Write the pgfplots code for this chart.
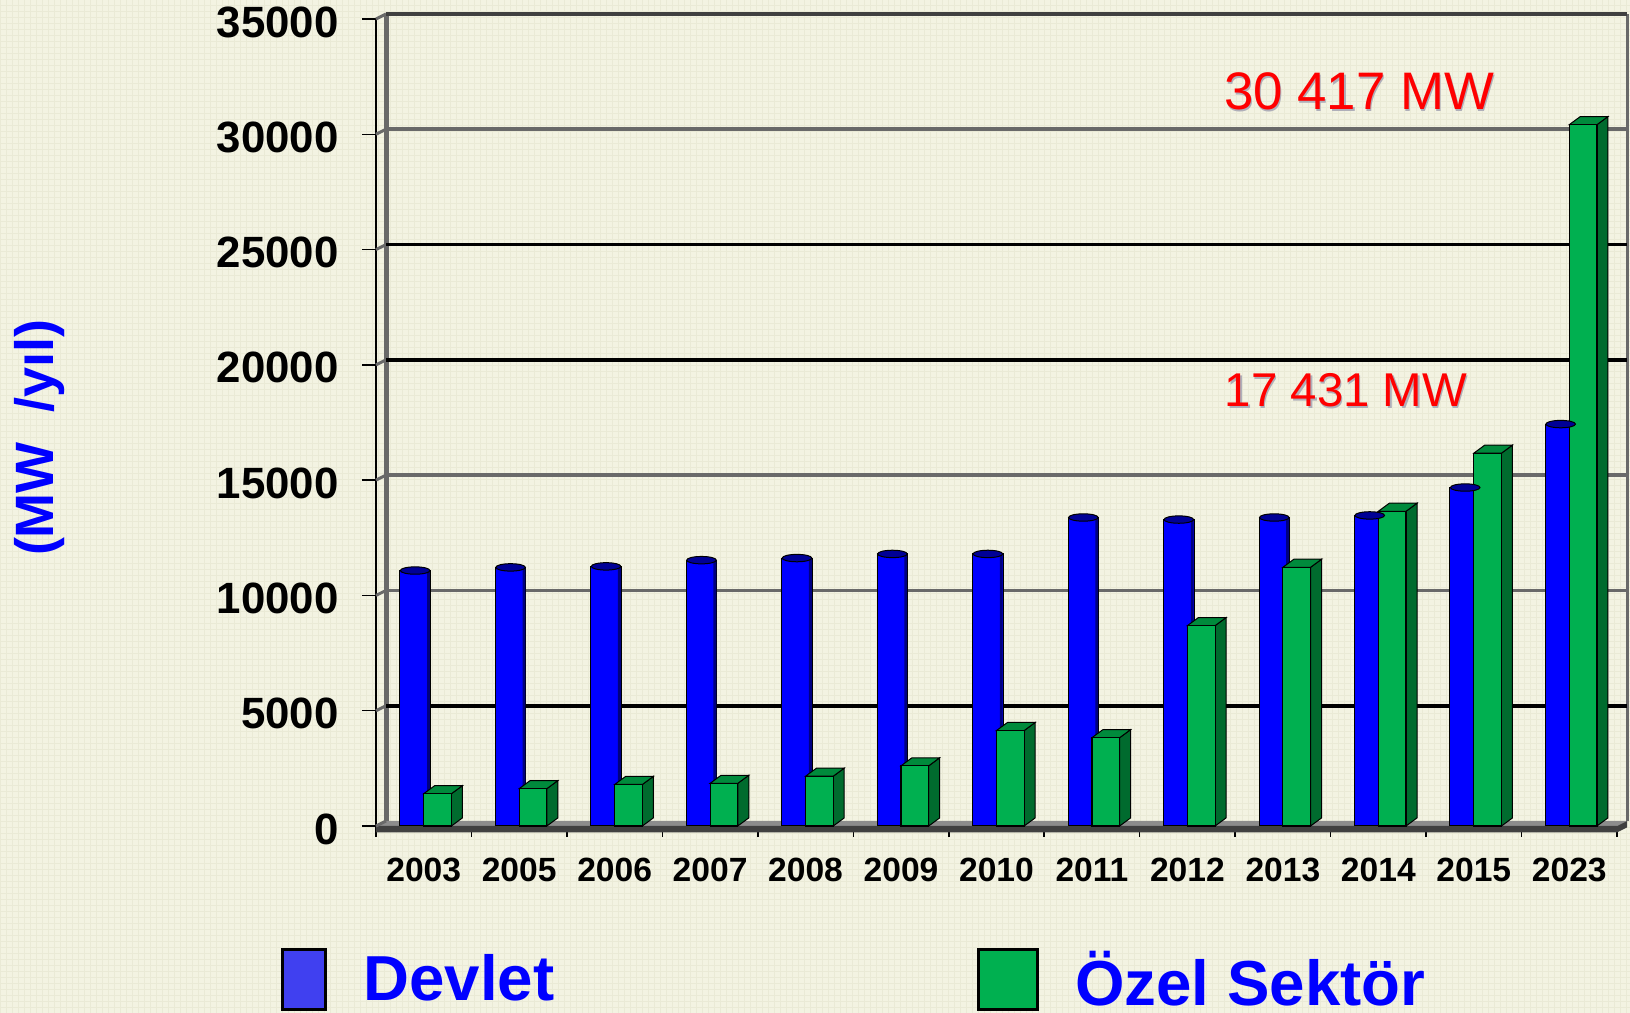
\documentclass[border=0pt]{standalone}
\usepackage{pgfplots}
\pgfplotsset{compat=1.18}
\usepackage{pgfplotstable}
\usepackage{fontspec}
\setmainfont{Liberation Sans}
\usetikzlibrary{patterns}
\definecolor{paper}{RGB}{243,243,226}
\definecolor{weave}{RGB}{234,234,214}
\definecolor{blubar}{RGB}{0,0,255}
\definecolor{bluedark}{RGB}{0,0,128}
\definecolor{bluecap}{RGB}{0,0,150}
\definecolor{grnfront}{RGB}{0,176,80}
\definecolor{grnside}{RGB}{0,107,46}
\definecolor{grntop}{RGB}{0,138,60}
\definecolor{wallgray}{RGB}{105,105,105}
\definecolor{floorgray}{RGB}{140,140,140}
\definecolor{floordark}{RGB}{64,64,64}
\definecolor{shadow}{RGB}{175,175,185}

% year, public (Devlet), private (Ozel Sektor) capacity in MW
\pgfplotstableread{
i year devlet ozel
0 2003 11080 1400
1 2005 11216 1620
2 2006 11260 1800
3 2007 11530 1850
4 2008 11620 2160
5 2009 11800 2610
6 2010 11800 4140
7 2011 13380 3830
8 2012 13290 8690
9 2013 13380 11220
10 2014 13470 13650
11 2015 14680 16170
12 2023 17431 30417
}\capdata

\newcommand\fcalc[2]{\begingroup\pgfkeys{/pgf/fpu=true,/pgf/fpu/output format=fixed}\pgfmathparse{#2}\xdef#1{\pgfmathresult}\endgroup}
\newcommand\wall[2]{\addplot[forget plot,#2,line width=1.8pt] coordinates {(0.105,#1) (13.105,#1)};}
\newcommand\stub[1]{\addplot[forget plot,wallgray,line width=1.5pt] coordinates {(0,#1) (0.105,#1+217)};}

\begin{document}
\begin{tikzpicture}
\path[use as bounding box] (0,0) rectangle (815pt,506.5pt);
\fill[paper] (0,0) rectangle (815pt,506.5pt);
\fill[pattern=grid,pattern color=weave] (0,0) rectangle (815pt,506.5pt);
\begin{axis}[
    at={(188pt,93.5pt)},
    anchor=south west,
    scale only axis,
    width=620.5pt,
    height=403.5pt,
    xmin=0, xmax=13,
    ymin=0, ymax=35000,
    clip=false,
    scaled y ticks=false,
    axis x line*=bottom,
    axis y line*=left,
    axis line style={-,black,line width=1pt},
    tick align=outside,
    xtick={0.5,1.5,2.5,3.5,4.5,5.5,6.5,7.5,8.5,9.5,10.5,11.5,12.5},
    xticklabels={2003,2005,2006,2007,2008,2009,2010,2011,2012,2013,2014,2015,2023},
    minor xtick={0,1,2,3,4,5,6,7,8,9,10,11,12,13},
    major x tick style={draw=none},
    minor x tick style={black,line width=.75pt},
    minor tick length=5.5pt,
    ytick={0,5000,10000,15000,20000,25000,30000,35000},
    major y tick style={black,line width=.75pt},
    major tick length=7pt,
    /pgf/number format/assume math mode=true,
    /pgf/number format/1000 sep={},
    xticklabel style={font=\fontsize{16.8}{20}\selectfont\bfseries,yshift=-5.5pt},
    yticklabel style={font=\fontsize{21.9}{26}\selectfont\bfseries,yshift=-1.5pt,xshift=-8.2pt},
    ylabel={(MW\ \ /yıl)},
    ylabel style={at={(rel axis cs:-0.2708,0.4814)},anchor=center,rotate=0,
        font=\fontsize{27}{30}\selectfont\bfseries,text=blue},
    legend columns=2,
    legend style={draw=none,fill=none,inner sep=0pt,at={(-0.0765,-0.15)},anchor=north west,
        font=\fontsize{31.8}{36}\selectfont\bfseries,text=blue,
        /tikz/every even column/.append style={column sep=209.5pt},
        /tikz/every odd column/.append style={column sep=16pt}},
]
% back wall and floor
\addplot[forget plot,fill=floorgray,draw=none] coordinates {(0,0) (0.105,217) (13.105,217) (13,0)} --cycle;
\addplot[forget plot,fill=floordark,draw=none] coordinates {(0,0) (13,0) (13.105,217) (13.105,-63) (13,-280) (0,-280)} --cycle;
\addplot[forget plot,wallgray,line width=2.5pt] coordinates {(0.105,217) (0.105,35217)};
\addplot[forget plot,wallgray,line width=1.5pt] coordinates {(13.105,217) (13.105,35217)};
\stub{0}\stub{5000}\stub{10000}\stub{15000}\stub{20000}\stub{25000}\stub{30000}\stub{35000}
\wall{5217}{black}
\wall{10217}{wallgray}
\wall{15217}{wallgray}
\wall{20217}{black}
\wall{25217}{black}
\wall{30217}{wallgray}
\wall{35217}{floordark}
% Devlet: cylinders
\addplot[forget plot,ybar,bar width=0.32,bar shift=0,fill=blubar,draw=black,line width=.5pt]
    table[x expr=\thisrow{i}+0.41,y=devlet] {\capdata};
\addplot[forget plot,ybar,bar width=0.03,bar shift=0,fill=bluedark,draw=none]
    table[x expr=\thisrow{i}+0.55,y=devlet] {\capdata};
\addplot[forget plot,only marks,mark=*,mark size=7.4pt,
    mark options={fill=bluecap,draw=black,line width=.5pt,yscale=.25}]
    table[x expr=\thisrow{i}+0.41,y=devlet] {\capdata};
% Ozel Sektor: boxes
\pgfplotsinvokeforeach{0,1,2,3,4,5,6,7,8,9,10,11,12}{
    \pgfplotstablegetelem{#1}{ozel}\of\capdata
    \let\val\pgfplotsretval
    \fcalc\xl{#1+0.5}
    \fcalc\xr{#1+0.79}
    \fcalc\xlb{#1+0.615}
    \fcalc\xrb{#1+0.905}
    \fcalc\vb{\val+350}
    \addplot[forget plot,fill=grnside,draw=black,line width=.5pt] coordinates
        {(\xr,0) (\xrb,350) (\xrb,\vb) (\xr,\val)} --cycle;
    \addplot[forget plot,fill=grntop,draw=black,line width=.5pt] coordinates
        {(\xl,\val) (\xlb,\vb) (\xrb,\vb) (\xr,\val)} --cycle;
}
\addplot[forget plot,ybar,bar width=0.29,bar shift=0,fill=grnfront,draw=black,line width=.6pt]
    table[x expr=\thisrow{i}+0.645,y=ozel] {\capdata};
% legend
\addlegendimage{legend image code/.code={\draw[fill={rgb,255:red,64;green,64;blue,240},draw=black,line width=1.5pt] (0,-8.5pt) rectangle (21.5pt,24.5pt);}}
\addlegendentry{\raisebox{19.7pt}{Devlet}}
\addlegendimage{legend image code/.code={\draw[fill=grnfront,draw=black,line width=1.5pt] (0,-8.5pt) rectangle (29.5pt,24.5pt);}}
\addlegendentry{\raisebox{18.8pt}{Özel Sektör}}
\end{axis}
% red value labels with their drop shadow
\node[text=shadow,font=\fontsize{26.4}{30}\selectfont] at (680.2pt,460pt) {30 417 MW};
\node[text=red,font=\fontsize{26.4}{30}\selectfont] at (679.5pt,460.7pt) {30 417 MW};
\node[text=shadow,font=\fontsize{23.7}{28}\selectfont] at (673.7pt,310.5pt) {17 431 MW};
\node[text=red,font=\fontsize{23.7}{28}\selectfont] at (673pt,311.2pt) {17 431 MW};
\end{tikzpicture}
\end{document}
